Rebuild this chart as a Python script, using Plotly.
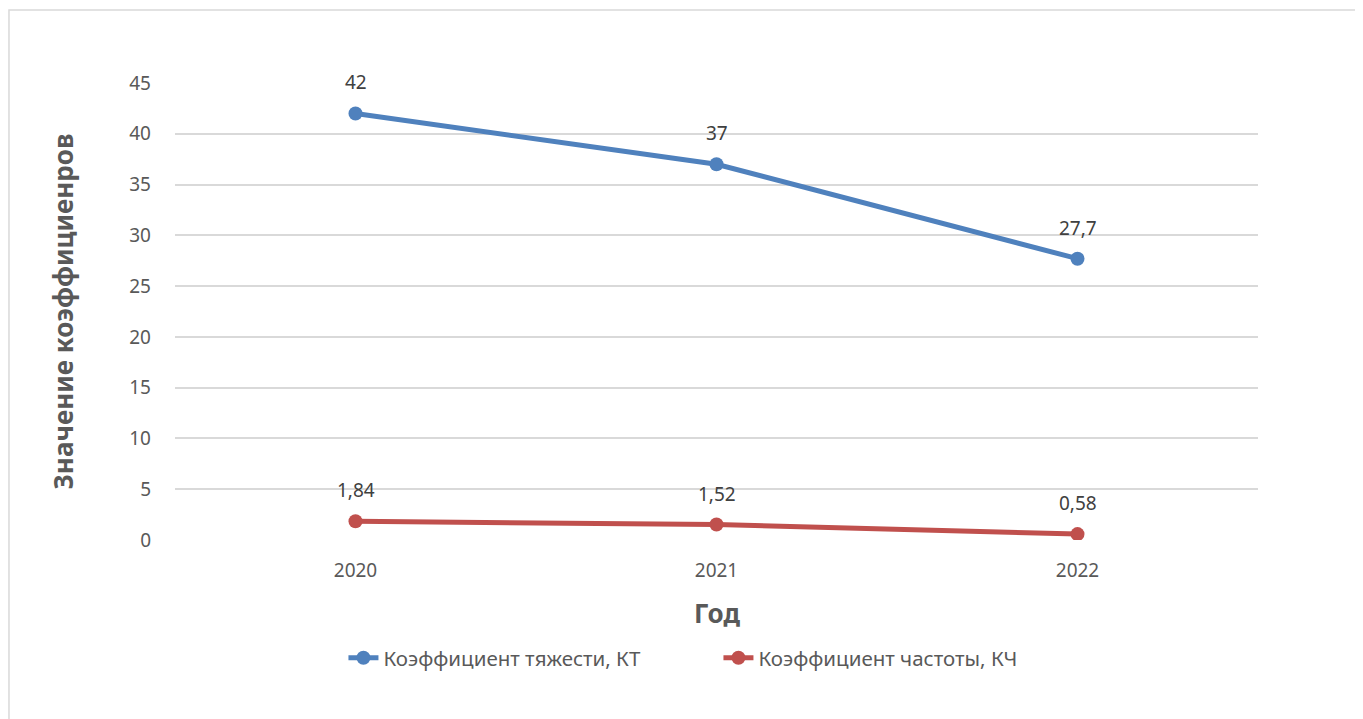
import plotly.graph_objects as go

years = ["2020", "2021", "2022"]
kt_values = [42, 37, 27.7]
kch_values = [1.84, 1.52, 0.58]
kt_name = "Коэффициент тяжести, КТ"
kch_name = "Коэффициент частоты, КЧ"
y_ticks = [0, 5, 10, 15, 20, 25, 30, 35, 40, 45]

FONT = "Noto Sans"
TXT = "#595959"

def fmt(v):
    return ("%g" % v).replace(".", ",")

fig = go.Figure()
for name, vals, col in [(kt_name, kt_values, "#4F81BD"), (kch_name, kch_values, "#C0504D")]:
    fig.add_trace(go.Scatter(
        x=years, y=vals, name=name, mode="lines+markers",
        line=dict(color=col, width=5),
        marker=dict(color=col, size=14),
    ))
    for i, v in enumerate(vals):
        fig.add_annotation(x=i, y=v, xref="x", yref="y", text=fmt(v), showarrow=False,
                           yshift=31, yanchor="middle", xanchor="center",
                           font=dict(family=FONT, size=19, color="#404040"))

fig.add_annotation(xref="paper", yref="paper", x=-0.1043, y=0.5, xanchor="center", yanchor="middle",
                   text="<b>Значение коэффициенров</b>",
                   textangle=-90, showarrow=False, font=dict(family=FONT, size=26, color=TXT))
fig.add_annotation(xref="paper", yref="paper", x=0.5, y=-0.16, xanchor="center", yanchor="middle",
                   text="<b>Год</b>",
                   showarrow=False, font=dict(family=FONT, size=26, color=TXT))

fig.add_shape(type="rect", xref="paper", yref="paper", x0=-0.1533, y0=-0.6, x1=1.2, y1=1.1597,
              line=dict(color="#D9D9D9", width=1.5), layer="below")

fig.update_layout(
    width=1363, height=719,
    margin=dict(l=167, r=113, t=75, b=187),
    paper_bgcolor="white", plot_bgcolor="white",
    font=dict(family=FONT, size=19, color=TXT),
    showlegend=True,
    legend=dict(orientation="h", x=0.5018, xanchor="center", y=-0.258, yanchor="middle",
                font=dict(family=FONT, size=20.5, color=TXT), entrywidth=330),
    xaxis=dict(type="category", range=[-0.5, 2.5], showgrid=False, zeroline=False, showline=False,
               ticks="", tickfont=dict(family=FONT, size=19, color=TXT), ticklabelstandoff=17),
    yaxis=dict(range=[0, 45], tickvals=y_ticks, showgrid=True, gridcolor="#D9D9D9", gridwidth=1.5,
               zeroline=False, showline=False, ticks="",
               tickfont=dict(family=FONT, size=19, color=TXT), ticklabelstandoff=23),
)

fig.write_html("out.html")
